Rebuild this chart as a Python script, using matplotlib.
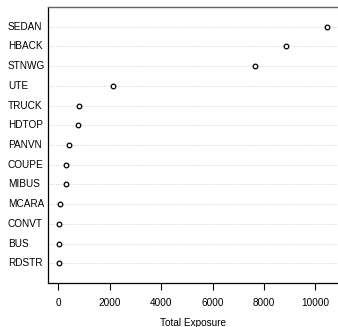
import matplotlib
matplotlib.use("Agg")
import matplotlib.pyplot as plt
from matplotlib.transforms import blended_transform_factory

# vehicle body types, top to bottom as drawn
body_types = ["SEDAN", "HBACK", "STNWG", "UTE", "TRUCK", "HDTOP", "PANVN",
              "COUPE", "MIBUS", "MCARA", "CONVT", "BUS", "RDSTR"]
exposure = [10460, 8840, 7640, 2120, 810, 770, 390,
            310, 310, 60, 25, 20, 10]
x_ticks = [0, 2000, 4000, 6000, 8000, 10000]

plt.rcParams["font.family"] = ["Liberation Sans", "DejaVu Sans"]
fs = 7.2

fig = plt.figure(figsize=(3.38, 3.27), dpi=100)
ax = fig.add_axes([48 / 338, 44 / 327, 290 / 338, 276 / 327])

n = len(body_types)
ypos = list(range(n, 0, -1))

for y in ypos:
    ax.axhline(y, color="lightgray", lw=0.7, ls=(0, (1, 1.5)), zorder=1)
ax.scatter(exposure, ypos, s=11, facecolors="white", edgecolors="black",
           linewidths=0.9, zorder=3)

lo, hi = min(exposure), max(exposure)
pad = (hi - lo) * 0.04
ax.set_xlim(lo - pad, hi + pad)
ax.set_ylim(0, n + 1)

# row labels sit left-aligned in the outer margin
ax.set_yticks([])
lab_tr = blended_transform_factory(fig.transFigure, ax.transData)
for y, lab in zip(ypos, body_types):
    ax.text(8 / 338, y, lab, transform=lab_tr, fontsize=fs,
            ha="left", va="center")

ax.set_xticks(x_ticks)
ax.set_xticklabels([str(v) for v in x_ticks], fontsize=fs)
ax.tick_params(axis="x", length=5, width=0.8, pad=6)
ax.set_xlabel("Total Exposure", fontsize=fs, labelpad=7)

for side in ["left", "bottom"]:
    ax.spines[side].set_color("black")
    ax.spines[side].set_linewidth(0.9)
ax.spines["top"].set_color("#666666")
ax.spines["top"].set_linewidth(1.0)
ax.spines["right"].set_visible(False)

fig.savefig("out.png", dpi=100)
